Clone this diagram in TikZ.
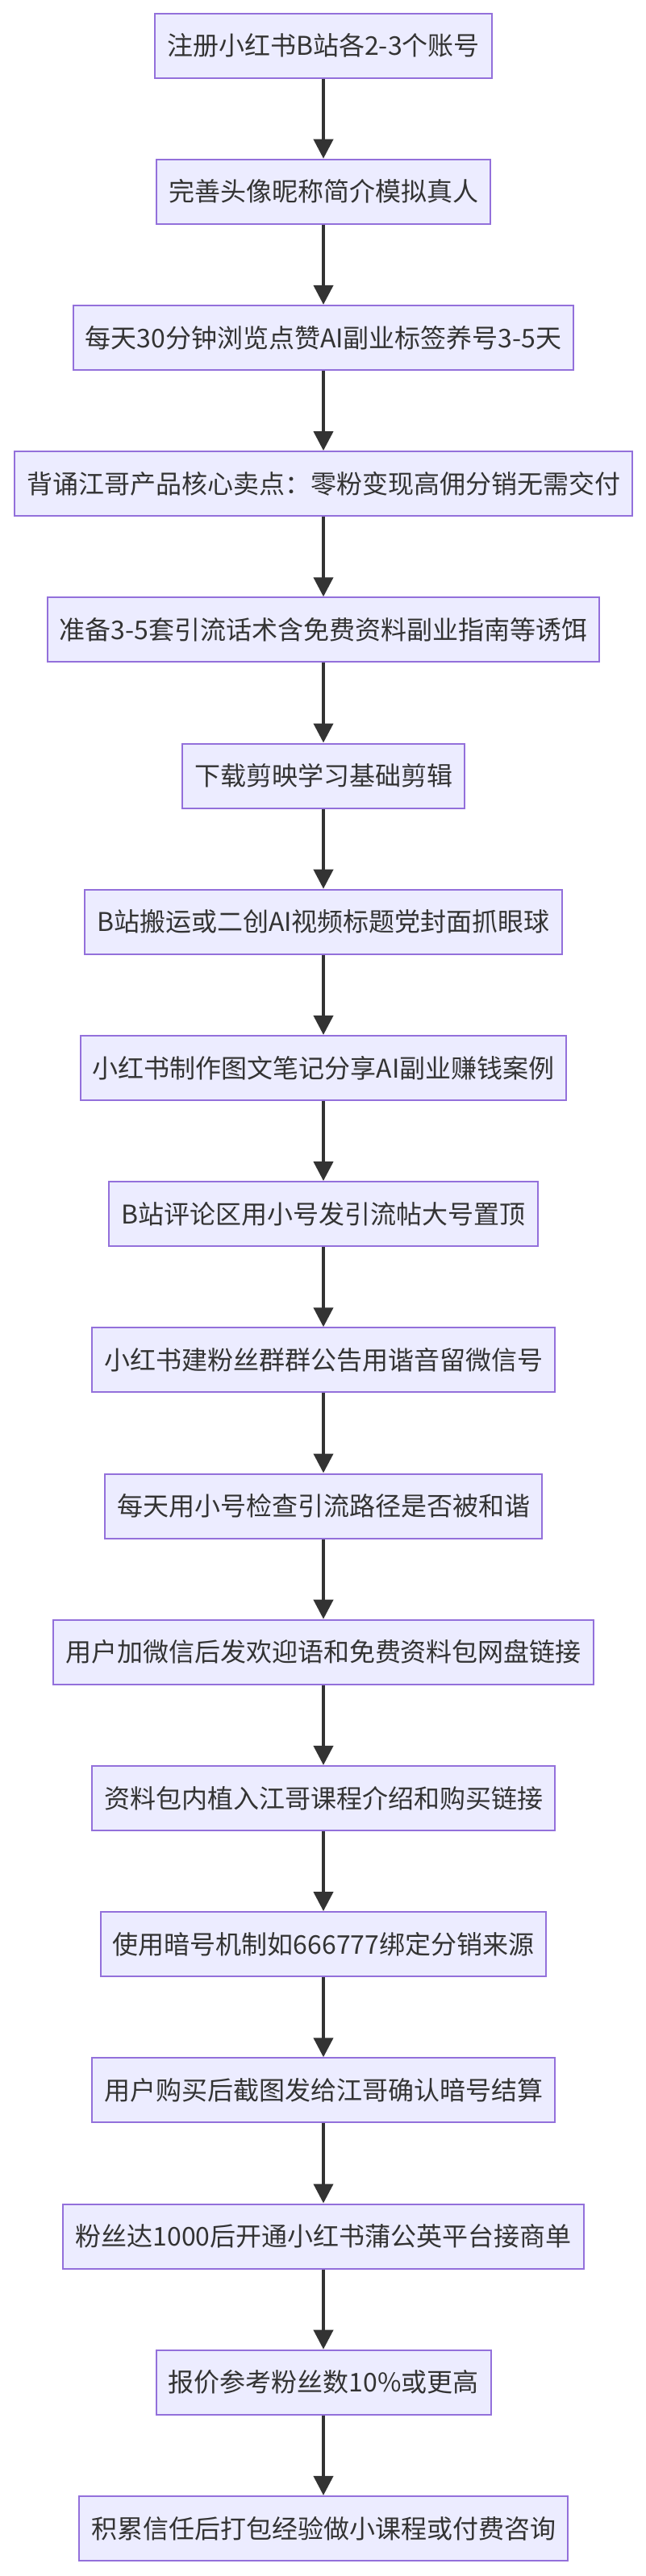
\documentclass[tikz,border=0pt]{standalone}
\usepackage{fontspec}
\newfontfamily\cjk{Noto Sans CJK SC}
\usetikzlibrary{arrows.meta, positioning}
\definecolor{nodefill}{HTML}{ECECFF}
\definecolor{nodeline}{HTML}{9370DB}
\definecolor{inkgray}{HTML}{333333}
\tikzset{
  box/.style={draw=nodeline, fill=nodefill, rectangle, align=center, inner xsep=7.5pt, inner ysep=0pt, minimum height=40pt, font=\cjk\fontsize{16pt}{20pt}\selectfont, text=inkgray, line width=1pt},
  arrow/.style={-{Triangle[length=12pt, width=12pt]}, line width=2pt, draw=inkgray}
}
\begin{document}
\begin{tikzpicture}[node distance=49.6pt]

\useasboundingbox (0,0) rectangle (400pt,-1598pt);

\node[box] (step1) at (200.5pt,-28.25pt) {注册小红书B站各2-3个账号};

\node[box, below=of step1] (step2) {完善头像昵称简介模拟真人};

\node[box, below=of step2] (step3) {每天30分钟浏览点赞AI副业标签养号3-5天};

\node[box, below=of step3] (step4) {背诵江哥产品核心卖点：零粉变现高佣分销无需交付};

\node[box, below=of step4] (step5) {准备3-5套引流话术含免费资料副业指南等诱饵};

\node[box, below=of step5] (step6) {下载剪映学习基础剪辑};

\node[box, below=of step6] (step7) {B站搬运或二创AI视频标题党封面抓眼球};

\node[box, below=of step7] (step8) {小红书制作图文笔记分享AI副业赚钱案例};

\node[box, below=of step8] (step9) {B站评论区用小号发引流帖大号置顶};

\node[box, below=of step9] (step10) {小红书建粉丝群群公告用谐音留微信号};

\node[box, below=of step10] (step11) {每天用小号检查引流路径是否被和谐};

\node[box, below=of step11] (step12) {用户加微信后发欢迎语和免费资料包网盘链接};

\node[box, below=of step12] (step13) {资料包内植入江哥课程介绍和购买链接};

\node[box, below=of step13] (step14) {使用暗号机制如666777绑定分销来源};

\node[box, below=of step14] (step15) {用户购买后截图发给江哥确认暗号结算};

\node[box, below=of step15] (step16) {粉丝达1000后开通小红书蒲公英平台接商单};

\node[box, below=of step16] (step17) {报价参考粉丝数10\%或更高};

\node[box, below=of step17] (step18) {积累信任后打包经验做小课程或付费咨询};

\draw[arrow] (step1) -- (step2);
\draw[arrow] (step2) -- (step3);
\draw[arrow] (step3) -- (step4);
\draw[arrow] (step4) -- (step5);
\draw[arrow] (step5) -- (step6);
\draw[arrow] (step6) -- (step7);
\draw[arrow] (step7) -- (step8);
\draw[arrow] (step8) -- (step9);
\draw[arrow] (step9) -- (step10);
\draw[arrow] (step10) -- (step11);
\draw[arrow] (step11) -- (step12);
\draw[arrow] (step12) -- (step13);
\draw[arrow] (step13) -- (step14);
\draw[arrow] (step14) -- (step15);
\draw[arrow] (step15) -- (step16);
\draw[arrow] (step16) -- (step17);
\draw[arrow] (step17) -- (step18);

\end{tikzpicture}
\end{document}
